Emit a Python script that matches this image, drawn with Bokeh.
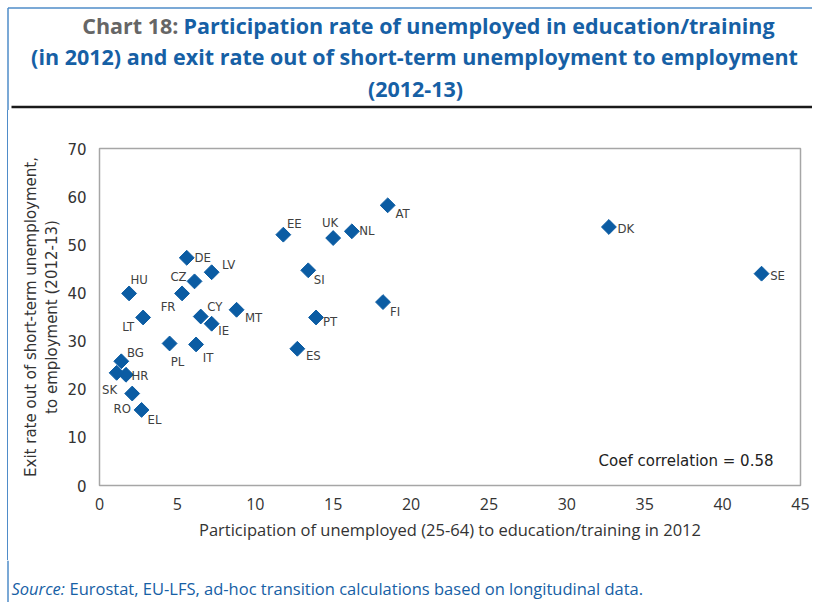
from bokeh.plotting import figure
from bokeh.layouts import column, row
from bokeh.models import (ColumnDataSource, Label, Range1d, FixedTicker,
                          LinearAxis, Div)
from bokeh.core.properties import value
from bokeh.embed import file_html
from bokeh.resources import INLINE
import numpy as np

# ---------------- data ----------------
countries = ["AT", "DK", "SE", "EE", "UK", "NL", "SI", "FI", "PT", "ES",
             "DE", "LV", "CZ", "FR", "HU", "LT", "CY", "IE", "MT", "PL",
             "IT", "BG", "HR", "SK", "RO", "EL"]
participation = [18.5, 32.7, 42.5, 11.8, 15.0, 16.2, 13.4, 18.2, 13.9, 12.7,
                 5.6, 7.2, 6.1, 5.3, 1.9, 2.8, 6.5, 7.2, 8.8, 4.5,
                 6.2, 1.4, 1.7, 1.1, 2.1, 2.7]
exit_rate = [58.2, 53.7, 44.0, 52.1, 51.4, 52.8, 44.7, 38.1, 34.9, 28.4,
             47.3, 44.3, 42.4, 39.9, 39.9, 34.9, 35.1, 33.6, 36.5, 29.5,
             29.3, 25.8, 23.0, 23.4, 19.1, 15.7]
x_ticks = [0, 5, 10, 15, 20, 25, 30, 35, 40, 45]
y_ticks = [0, 10, 20, 30, 40, 50, 60, 70]
coef_text = "Coef correlation = 0.58"
x_title = "Participation of unemployed (25-64) to education/training in 2012"
y_title_1 = "Exit rate out of short-term unemployment,"
y_title_2 = "to employment (2012-13)"

# label placement (screen pixel offsets from marker centre)
label_dx = [15, 17, 16, 11, -3, 15, 11, 12, 14, 16,
            16, 17, -16, -14, 10, -15, 14, 12, 17, 8,
            12, 14, 14, -7, -10, 13]
label_dy = [8, 2, 2, -11, -16, -1, 9, 9, 4, 7,
            0, -8, -5, 13, -14, 9, -10, 7, 8, 18,
            13, -9, 1, 17, 15, 10]

# ---------------- layout constants (page px) ----------------
W = 812
TOP_H, MID_H, BOT_H = 110, 450, 42
STRIP_W = 8
FL, FT, FRT, FB = 99, 148, 800, 485      # frame edges on page

BLUE = "#0B5CA3"
TITLE_BLUE = "#1660A5"
BORDER_BLUE = "#4F8CC9"
GRAY_T = "#666666"
TXT = "#404040"
LABEL_FONT = "DejaVu Sans Condensed, Roboto, sans-serif"


def blank(width, height, y0, y1):
    f = figure(width=width, height=height, output_backend="svg",
               toolbar_location=None, x_range=Range1d(0, width),
               y_range=Range1d(y1, y0), x_axis_location=None,
               y_axis_location=None, min_border=0)
    f.min_border_left = f.min_border_right = 0
    f.min_border_top = f.min_border_bottom = 0
    f.outline_line_color = None
    f.xgrid.grid_line_color = None
    f.ygrid.grid_line_color = None
    f.background_fill_color = "white"
    f.border_fill_color = "white"
    return f


def lab(f, text, x, y, **kw):
    f.add_layout(Label(x=x, y=y, text=text, **kw))


# ---------- title block ----------
top = blank(W, TOP_H, 0, TOP_H)
top.segment(x0=[7.5, 7.5], y0=[7.5, 7.5], x1=[W, 7.5], y1=[7.5, TOP_H],
            line_color=BORDER_BLUE, line_width=1.5)
top.segment(x0=[11], y0=[106.5], x1=[W], y1=[106.5], line_color="#1a1a1a", line_width=2.5)
TF = dict(text_font="Open Sans", text_font_style="bold", text_font_size="21.5px",
          text_baseline="middle")
lab(top, "Chart 18:", 178, 25, text_align="right", text_color=GRAY_T, **TF)
lab(top, "Participation rate of unemployed in education/training", 183, 25,
    text_align="left", text_color=TITLE_BLUE, **TF)
lab(top, "(in 2012) and exit rate out of short-term unemployment to employment", 414, 56,
    text_align="center", text_color=TITLE_BLUE, **TF)
lab(top, "(2012-13)", 415, 88, text_align="center", text_color=TITLE_BLUE, **TF)

# ---------- left border strip ----------
strip = Div(text="", width=STRIP_W, height=MID_H, margin=0,
            styles={"box-sizing": "border-box", "margin": "0px", "padding": "0px",
                    "border-right": "1.5px solid " + BORDER_BLUE})

# ---------- main scatter ----------
mid_w = W - STRIP_W
p = figure(width=mid_w, height=MID_H, output_backend="svg", toolbar_location=None,
           x_range=Range1d(0, 45), y_range=Range1d(0, 70),
           min_border_left=FL - STRIP_W, min_border_right=W - FRT,
           min_border_top=FT - TOP_H, min_border_bottom=TOP_H + MID_H - FB)
p.background_fill_color = "white"
p.border_fill_color = "white"
p.outline_line_color = "#A6A6A6"
p.outline_line_width = 1.5
p.xgrid.grid_line_color = None
p.ygrid.grid_line_color = None
for ax in (p.xaxis[0], p.yaxis[0]):
    ax.axis_line_color = None
    ax.major_tick_line_color = None
    ax.minor_tick_line_color = None
    ax.major_tick_out = 0
    ax.major_tick_in = 0
    ax.minor_tick_out = 0
    ax.minor_tick_in = 0
    ax.major_label_text_color = "#333333"
p.xaxis.ticker = FixedTicker(ticks=x_ticks)
p.yaxis.ticker = FixedTicker(ticks=y_ticks)
p.xaxis.major_label_text_font = "Open Sans"
p.xaxis.major_label_text_font_size = "16px"
p.xaxis.major_label_standoff = 12
p.yaxis.major_label_text_font = "DejaVu Sans"
p.yaxis.major_label_text_font_size = "15px"
p.yaxis.major_label_standoff = 13
p.xaxis.axis_label = x_title
p.xaxis.axis_label_text_font = "Open Sans"
p.xaxis.axis_label_text_font_size = "16.5px"
p.xaxis.axis_label_text_font_style = "normal"
p.xaxis.axis_label_text_color = "#333333"
p.xaxis.axis_label_standoff = 5


def title_axis(text, standoff):
    return LinearAxis(axis_label=text, ticker=FixedTicker(ticks=[]),
                      axis_line_color=None, major_tick_line_color=None,
                      minor_tick_line_color=None, major_tick_out=0, major_tick_in=0,
                      minor_tick_out=0, minor_tick_in=0, major_label_standoff=0,
                      major_label_text_font_size="0px",
                      axis_label_standoff=standoff,
                      axis_label_text_font="DejaVu Sans",
                      axis_label_text_font_size="15px",
                      axis_label_text_font_style="normal",
                      axis_label_text_color="#333333")


p.add_layout(title_axis(y_title_2, 4), "left")
p.add_layout(title_axis(y_title_1, 0), "left")

src = ColumnDataSource(dict(x=participation, y=exit_rate, name=countries,
                            dx=label_dx, dy=label_dy))
p.scatter("x", "y", source=src, marker="square", size=10.5, angle=np.pi / 4,
          fill_color=BLUE, line_color=BLUE)
p.text("x", "y", text="name", source=src, x_offset="dx", y_offset="dy",
       text_align="center", text_baseline="middle",
       text_font=value(LABEL_FONT), text_font_size="13px", text_color=TXT)
p.add_layout(Label(x=773 - FL, y=FB - 460, x_units="screen", y_units="screen",
                   text=coef_text, text_align="right", text_baseline="middle",
                   text_font="DejaVu Sans", text_font_size="15px",
                   text_color="#222222"))

# ---------- source block ----------
Y0 = TOP_H + MID_H
bot = blank(W, BOT_H, Y0, Y0 + BOT_H)
bot.segment(x0=[7.5], y0=[Y0], x1=[7.5], y1=[Y0 + BOT_H],
            line_color=BORDER_BLUE, line_width=1.5)
SF = dict(text_font="Open Sans", text_font_size="16.5px", text_baseline="middle",
          text_color=TITLE_BLUE, text_align="left")
lab(bot, "Source:", 11, 588, text_font_style="italic", **SF)
lab(bot, "Eurostat, EU-LFS, ad-hoc transition calculations based on longitudinal data.",
    69, 588, **SF)

layout = column(top, row(strip, p), bot)
open("out.html", "w").write(file_html(layout, INLINE))
